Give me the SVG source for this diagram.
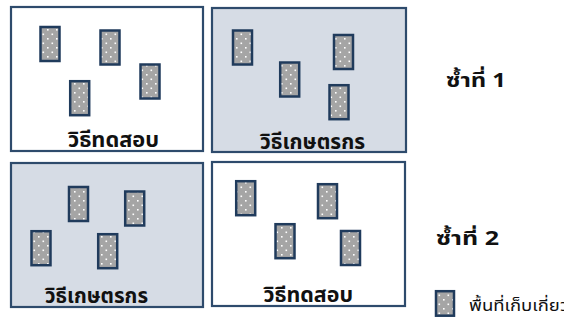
<svg xmlns="http://www.w3.org/2000/svg" width="564" height="327" viewBox="0 0 564 327">
<defs>
<pattern id="dots" width="9" height="9" patternUnits="userSpaceOnUse">
<rect width="9" height="9" fill="#A5A5A5"/>
<rect x="2" y="2" width="1.6" height="1.6" fill="#FFFFFF"/>
<rect x="6.5" y="6.5" width="1.6" height="1.6" fill="#FFFFFF"/>
</pattern>
<style>
.box{stroke:#2E4B6C;stroke-width:2.2}
.w{fill:#FFFFFF}
.g{fill:#D6DCE5}
.plot{fill:url(#dots);stroke:#203B5C;stroke-width:2.5}
.lbl{font-family:Tahoma,"Noto Sans Thai","Leelawadee UI","DejaVu Sans",sans-serif;font-weight:bold;font-size:21px;fill:#111111}
.rep{font-family:Tahoma,"Noto Sans Thai","Leelawadee UI","DejaVu Sans",sans-serif;font-weight:bold;font-size:19px;fill:#111111}
.leg{font-family:Tahoma,"Noto Sans Thai","Leelawadee UI","DejaVu Sans",sans-serif;font-size:16px;fill:#111111}
</style>
</defs>
<rect width="564" height="327" fill="#FFFFFF"/>
<g id="block1">
<rect class="box w" x="11" y="7" width="192" height="144"/>
<rect class="plot" x="40.5" y="27" width="19" height="34"/>
<rect class="plot" x="100.5" y="30.5" width="19" height="34"/>
<rect class="plot" x="140.5" y="64.5" width="19" height="34"/>
<rect class="plot" x="70.2" y="81.2" width="19" height="34"/>
<text class="lbl" x="68" y="146.5" textLength="91" lengthAdjust="spacingAndGlyphs">วิธีทดสอบ</text>
</g>
<g id="block2">
<rect class="box g" x="212" y="8" width="194" height="144"/>
<rect class="plot" x="233" y="30.5" width="19" height="34"/>
<rect class="plot" x="280.2" y="62.5" width="19" height="34"/>
<rect class="plot" x="334" y="35" width="19" height="34"/>
<rect class="plot" x="329.5" y="85.2" width="19" height="34"/>
<text class="lbl" x="260" y="148.5" textLength="105" lengthAdjust="spacingAndGlyphs">วิธีเกษตรกร</text>
</g>
<g id="block3">
<rect class="box g" x="11" y="163" width="192" height="144"/>
<rect class="plot" x="69" y="187" width="19" height="34"/>
<rect class="plot" x="125.2" y="191.5" width="19" height="34"/>
<rect class="plot" x="31.5" y="231.2" width="19" height="34"/>
<rect class="plot" x="98.2" y="234.2" width="19" height="34"/>
<text class="lbl" x="45" y="303" textLength="103" lengthAdjust="spacingAndGlyphs">วิธีเกษตรกร</text>
</g>
<g id="block4">
<rect class="box w" x="212" y="162" width="193" height="144"/>
<rect class="plot" x="236.2" y="181.2" width="19" height="34"/>
<rect class="plot" x="318" y="184.2" width="19" height="34"/>
<rect class="plot" x="275.5" y="224.2" width="19" height="34"/>
<rect class="plot" x="341" y="231" width="19" height="34"/>
<text class="lbl" x="263.5" y="302" textLength="89.5" lengthAdjust="spacingAndGlyphs">วิธีทดสอบ</text>
</g>
<g id="rep1"><text class="rep" x="446" y="86.5" textLength="60" lengthAdjust="spacingAndGlyphs">ซ้ำที่ 1</text></g>
<g id="rep2"><text class="rep" x="436" y="245" textLength="63" lengthAdjust="spacingAndGlyphs">ซ้ำที่ 2</text></g>
<g id="legend">
<rect class="plot" x="436" y="291.2" width="18" height="24.5"/>
<text class="leg" x="469" y="311" textLength="100" lengthAdjust="spacingAndGlyphs">พื้นที่เก็บเกี่ยว</text>
</g>
</svg>
